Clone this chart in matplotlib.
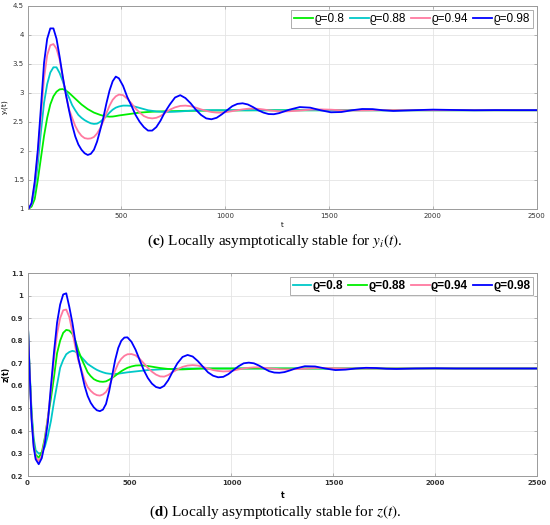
import numpy as np
import matplotlib
matplotlib.use("Agg")
import matplotlib.pyplot as plt

# --- data ---
labels = ["ϱ=0.8", "ϱ=0.88", "ϱ=0.94", "ϱ=0.98"]

t_y = [55, 70, 85, 100, 115, 130, 145, 160, 175, 190, 205, 220, 235, 250, 265, 280,
       295, 310, 325, 340, 355, 370, 385, 400, 415, 430, 445, 460, 475, 490,
       510, 530, 550, 570, 590, 610, 630, 650, 670, 690, 710,
       735, 760, 785, 810, 835, 860, 885, 910, 935, 960, 985, 1010, 1035, 1060, 1085,
       1110, 1135, 1160, 1185, 1210, 1235, 1260, 1285, 1310,
       1360, 1410, 1460, 1510, 1560, 1610, 1660, 1710, 1760, 1810,
       1900, 2000, 2100, 2200, 2300, 2400, 2500]

y_08 = [1.00, 1.04, 1.17, 1.50, 1.88, 2.26, 2.57, 2.80, 2.94, 3.02, 3.06, 3.065, 3.04, 3.00, 2.95, 2.90,
        2.85, 2.80, 2.76, 2.72, 2.69, 2.66, 2.64, 2.62, 2.605, 2.595, 2.59, 2.592, 2.60, 2.61,
        2.62, 2.63, 2.64, 2.65, 2.66, 2.665, 2.67, 2.675, 2.678, 2.68, 2.682,
        2.684, 2.686, 2.688, 2.69, 2.691, 2.692, 2.693, 2.694, 2.695, 2.696, 2.697, 2.697, 2.698, 2.698, 2.699,
        2.699, 2.70, 2.70, 2.70, 2.70, 2.70, 2.70, 2.70, 2.70,
        2.70, 2.70, 2.70, 2.70, 2.70, 2.70, 2.70, 2.70, 2.70, 2.70,
        2.70, 2.70, 2.70, 2.70, 2.70, 2.70, 2.70]

y_088 = [1.00, 1.08, 1.34, 1.78, 2.33, 2.83, 3.15, 3.35, 3.44, 3.44, 3.34, 3.20, 3.03, 2.92, 2.79, 2.70,
         2.62, 2.57, 2.53, 2.50, 2.475, 2.465, 2.47, 2.50, 2.55, 2.60, 2.66, 2.71, 2.745, 2.765,
         2.78, 2.78, 2.775, 2.76, 2.74, 2.72, 2.70, 2.69, 2.68, 2.675, 2.672,
         2.672, 2.675, 2.68, 2.686, 2.692, 2.697, 2.70, 2.701, 2.702, 2.702, 2.701, 2.70, 2.70, 2.70, 2.70,
         2.70, 2.70, 2.70, 2.70, 2.70, 2.70, 2.70, 2.70, 2.70,
         2.70, 2.70, 2.70, 2.70, 2.70, 2.70, 2.70, 2.70, 2.70, 2.70,
         2.70, 2.70, 2.70, 2.70, 2.70, 2.70, 2.70]

y_094 = [1.00, 1.09, 1.43, 1.95, 2.60, 3.25, 3.65, 3.82, 3.84, 3.76, 3.57, 3.27, 2.97, 2.72, 2.57, 2.43,
         2.33, 2.26, 2.22, 2.21, 2.215, 2.24, 2.30, 2.39, 2.51, 2.65, 2.78, 2.88, 2.94, 2.97,
         2.96, 2.90, 2.82, 2.73, 2.66, 2.60, 2.57, 2.56, 2.57, 2.60, 2.65,
         2.71, 2.75, 2.775, 2.78, 2.77, 2.745, 2.715, 2.69, 2.67, 2.66, 2.66, 2.67, 2.685, 2.70, 2.715,
         2.726, 2.73, 2.725, 2.714, 2.70, 2.69, 2.683, 2.68, 2.683,
         2.695, 2.71, 2.715, 2.71, 2.70, 2.697, 2.697, 2.70, 2.702, 2.703,
         2.701, 2.70, 2.701, 2.701, 2.70, 2.70, 2.70]

y_098 = [1.00, 1.10, 1.47, 2.02, 2.75, 3.52, 3.93, 4.11, 4.11, 3.93, 3.62, 3.28, 2.97, 2.70, 2.45, 2.25,
         2.11, 2.02, 1.96, 1.93, 1.95, 2.02, 2.16, 2.36, 2.57, 2.82, 3.04, 3.20, 3.28, 3.25,
         3.12, 2.93, 2.78, 2.62, 2.50, 2.41, 2.35, 2.35, 2.41, 2.52, 2.66,
         2.80, 2.92, 2.96, 2.91, 2.82, 2.71, 2.62, 2.56, 2.545, 2.57, 2.63, 2.70, 2.77, 2.81, 2.82,
         2.80, 2.755, 2.70, 2.66, 2.635, 2.632, 2.65, 2.68, 2.71,
         2.755, 2.745, 2.70, 2.665, 2.67, 2.70, 2.722, 2.72, 2.70, 2.688,
         2.70, 2.711, 2.705, 2.70, 2.703, 2.702, 2.702]

t_z = [0, 10, 20, 30, 40, 55, 70, 85, 100, 115, 130, 145, 160, 175, 190, 205, 220, 235, 250, 265,
       280, 295, 310, 325, 340, 355, 370, 385, 400, 415, 430, 445, 460, 475, 490,
       510, 530, 550, 570, 590, 610, 630, 650, 670, 690, 710,
       735, 760, 785, 810, 835, 860, 885, 910, 935, 960, 985, 1010, 1035, 1060, 1085,
       1110, 1135, 1160, 1185, 1210, 1235, 1260, 1285, 1310,
       1360, 1410, 1460, 1510, 1560, 1610, 1660, 1710, 1760, 1810,
       1900, 2000, 2100, 2200, 2300, 2400, 2500]

z_08 = [0.92, 0.68, 0.49, 0.37, 0.315, 0.30, 0.305, 0.33, 0.38, 0.445, 0.53, 0.605, 0.68, 0.715, 0.74, 0.75,
        0.755, 0.752, 0.74, 0.727, 0.712, 0.697, 0.688, 0.679, 0.671, 0.665, 0.66, 0.656, 0.654, 0.653,
        0.653, 0.654, 0.656, 0.658, 0.66, 0.662, 0.664, 0.666, 0.668, 0.67, 0.671, 0.672, 0.673, 0.674,
        0.675, 0.675, 0.676, 0.676, 0.677, 0.677, 0.677, 0.677, 0.677, 0.677, 0.677, 0.677, 0.677, 0.677,
        0.677, 0.677, 0.677, 0.677, 0.677, 0.677, 0.677, 0.677, 0.677, 0.677, 0.677, 0.677,
        0.677, 0.677, 0.677, 0.677, 0.677, 0.677, 0.677, 0.677, 0.677, 0.677,
        0.677, 0.677, 0.677, 0.677, 0.677, 0.677, 0.677]

z_088 = [0.92, 0.67, 0.47, 0.35, 0.295, 0.282, 0.305, 0.37, 0.46, 0.545, 0.64, 0.745, 0.80, 0.835, 0.848, 0.845,
         0.83, 0.80, 0.755, 0.72, 0.69, 0.66, 0.643, 0.63, 0.623, 0.619, 0.618, 0.62, 0.627, 0.635,
         0.645, 0.655, 0.665, 0.673, 0.68, 0.686, 0.69, 0.691, 0.69, 0.688, 0.685, 0.682, 0.679, 0.677,
         0.675, 0.674, 0.673, 0.673, 0.674, 0.675, 0.676, 0.677, 0.677, 0.677, 0.677, 0.677, 0.677, 0.677,
         0.677, 0.677, 0.677, 0.677, 0.677, 0.677, 0.677, 0.677, 0.677, 0.677, 0.677, 0.677,
         0.677, 0.677, 0.677, 0.677, 0.677, 0.677, 0.677, 0.677, 0.677, 0.677,
         0.677, 0.677, 0.677, 0.677, 0.677, 0.677, 0.677]

z_094 = [0.92, 0.67, 0.46, 0.34, 0.285, 0.267, 0.29, 0.36, 0.46, 0.58, 0.72, 0.83, 0.90, 0.935, 0.938, 0.905,
         0.84, 0.77, 0.71, 0.67, 0.625, 0.595, 0.578, 0.566, 0.559, 0.557, 0.562, 0.573, 0.595, 0.635,
         0.668, 0.70, 0.72, 0.733, 0.74, 0.741, 0.735, 0.72, 0.70, 0.68, 0.663, 0.65, 0.642, 0.641,
         0.648, 0.66, 0.673, 0.684, 0.69, 0.692, 0.69, 0.684, 0.677, 0.67, 0.666, 0.664, 0.665, 0.668,
         0.673, 0.677, 0.68, 0.682, 0.682, 0.68, 0.678, 0.676, 0.674, 0.673, 0.673, 0.674,
         0.676, 0.679, 0.679, 0.678, 0.677, 0.677, 0.677, 0.677, 0.677, 0.677,
         0.677, 0.677, 0.677, 0.677, 0.677, 0.677, 0.677]

z_098 = [0.92, 0.67, 0.45, 0.33, 0.275, 0.253, 0.28, 0.345, 0.44, 0.60, 0.75, 0.88, 0.96, 1.005, 1.01, 0.95,
         0.88, 0.795, 0.72, 0.66, 0.60, 0.555, 0.525, 0.505, 0.492, 0.488, 0.495, 0.52, 0.575, 0.645,
         0.715, 0.768, 0.80, 0.814, 0.815, 0.795, 0.76, 0.715, 0.67, 0.635, 0.61, 0.595, 0.59, 0.60,
         0.625, 0.66, 0.70, 0.728, 0.737, 0.73, 0.71, 0.685, 0.66, 0.645, 0.638, 0.64, 0.652, 0.67,
         0.687, 0.70, 0.703, 0.70, 0.69, 0.677, 0.665, 0.659, 0.658, 0.661, 0.668, 0.676,
         0.687, 0.686, 0.677, 0.670, 0.672, 0.677, 0.680, 0.679, 0.676, 0.675,
         0.677, 0.678, 0.677, 0.677, 0.677, 0.677, 0.677]

green = "#00ee00"
cyan = "#00c8c8"
pink = "#ff7aa0"
blue = "#0000ff"

plt.rcParams['mathtext.fontset'] = 'stix'
legend_family = ['Liberation Sans', 'DejaVu Sans']

fig = plt.figure(figsize=(5.5, 5.25), dpi=100)


def style_axes(ax, bold):
    w = 'bold' if bold else 'normal'
    ax.grid(True, color='#e4e4e4', linewidth=0.6)
    ax.set_axisbelow(True)
    for s in ax.spines.values():
        s.set_color('#9a9a9a')
        s.set_linewidth(0.7)
    ax.tick_params(direction='in', length=2.5, width=0.5, colors='#9a9a9a',
                   labelcolor='#333333', labelsize=5, top=True, right=True, pad=3)
    for lab in ax.get_xticklabels() + ax.get_yticklabels():
        lab.set_fontweight(w)


def add_legend(ax, bold):
    leg = ax.legend(loc='upper right', ncol=4, handlelength=1.6, handletextpad=0.1,
                    columnspacing=0.45, borderpad=0.25, borderaxespad=0.35, fancybox=False,
                    prop={'family': legend_family, 'size': 8.5,
                          'weight': 'bold' if bold else 'normal'})
    leg.get_frame().set_edgecolor('#8a8a8a')
    leg.get_frame().set_linewidth(0.6)
    return leg


# --- top panel: y_i(t) ---
ax1 = fig.add_axes([0.051, 0.602, 0.925, 0.387])
for vals, c, lab in zip([y_08, y_088, y_094, y_098], [green, cyan, pink, blue], labels):
    ax1.plot(t_y, vals, color=c, lw=1.3, label=lab)
ax1.set_xlim(53, 2500)
ax1.set_ylim(1, 4.5)
ax1.set_xticks([500, 1000, 1500, 2000, 2500])
ax1.set_yticks(np.arange(1, 4.51, 0.5))
ax1.set_yticklabels(['1', '1.5', '2', '2.5', '3', '3.5', '4', '4.5'])
style_axes(ax1, False)
ax1.set_xlabel('t', fontsize=5)
ax1.set_ylabel('y$_i$(t)', fontsize=5)
ax1.xaxis.set_label_coords(0.5, -0.065)
ax1.yaxis.set_label_coords(-0.035, 0.5)
add_legend(ax1, False)

# --- bottom panel: z(t) ---
ax2 = fig.add_axes([0.05, 0.093, 0.927, 0.387])
for vals, c, lab in zip([z_08, z_088, z_094, z_098], [cyan, green, pink, blue], labels):
    ax2.plot(t_z, vals, color=c, lw=1.3, label=lab)
ax2.set_xlim(0, 2500)
ax2.set_ylim(0.2, 1.1)
ax2.set_xticks([0, 500, 1000, 1500, 2000, 2500])
ax2.set_yticks(np.arange(0.2, 1.11, 0.1))
ax2.set_yticklabels(['0.2', '0.3', '0.4', '0.5', '0.6', '0.7', '0.8', '0.9', '1', '1.1'])
style_axes(ax2, True)
ax2.set_xlabel('t', fontsize=5.5, fontweight='bold')
ax2.set_ylabel('z(t)', fontsize=5.5, fontweight='bold')
ax2.xaxis.set_label_coords(0.5, -0.075)
ax2.yaxis.set_label_coords(-0.033, 0.5)
add_legend(ax2, True)

# --- captions ---
fig.text(0.5, 1 - 241 / 525, r'($\mathbf{c}$) Locally asymptotically stable for $y_i(t)$.',
         ha='center', va='center', fontsize=11, family='Liberation Serif')
fig.text(0.5, 1 - 512 / 525, r'($\mathbf{d}$) Locally asymptotically stable for $z(t)$.',
         ha='center', va='center', fontsize=11, family='Liberation Serif')

fig.savefig('out.png', dpi=100, facecolor='white')
